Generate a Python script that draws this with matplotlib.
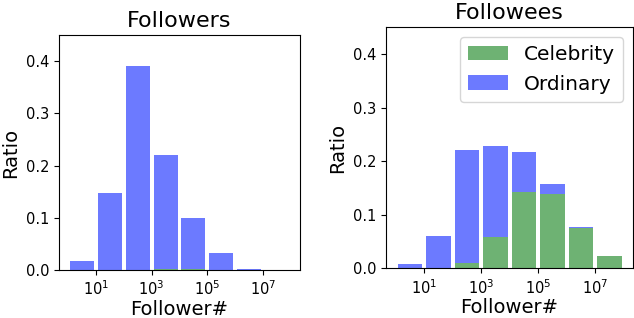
import numpy as np
import matplotlib
matplotlib.use("Agg")
import matplotlib.pyplot as plt

# log10 of the lower edge of each bin (10^0 .. 10^7)
decades = [0, 1, 2, 3, 4, 5, 6, 7]

# Followers
followers_celebrity = [0.0, 0.0, 0.0, 0.001, 0.0015, 0.0, 0.0, 0.0]
followers_ordinary = [0.0175, 0.148, 0.39, 0.219, 0.0985, 0.0326, 0.0025, 0.0]

# Followees
followees_celebrity = [0.0, 0.0, 0.0093, 0.058, 0.142, 0.139, 0.076, 0.0235]
followees_ordinary = [0.0075, 0.060, 0.212, 0.170, 0.075, 0.019, 0.001, 0.0]

tick_decades = [1, 3, 5, 7]
green = "#6eb273"
blue = "#6c7aff"


def draw(ax, celeb, ordinary, title, legend=False):
    d = np.array(decades, dtype=float)
    left = 10 ** (d + 0.07)
    width = 10 ** (d + 0.93) - left
    celeb = np.array(celeb)
    ordinary = np.array(ordinary)
    ax.bar(left, celeb, width=width, align="edge", color=green, label="Celebrity")
    ax.bar(left, ordinary, width=width, bottom=celeb, align="edge", color=blue, label="Ordinary")
    ax.set_xscale("log")
    ax.set_xlim(10 ** -0.33, 10 ** 8.33)
    ax.set_ylim(0, 0.45)
    ax.set_xticks([10.0 ** k for k in tick_decades])
    ax.set_xticklabels([r"$10^{%d}$" % k for k in tick_decades])
    ax.minorticks_off()
    ax.set_yticks([0.0, 0.1, 0.2, 0.3, 0.4])
    ax.tick_params(labelsize=10.5)
    ax.set_title(title, fontsize=16)
    ax.set_xlabel("Follower#", fontsize=14, labelpad=1)
    ax.set_ylabel("Ratio", fontsize=14)
    if legend:
        ax.legend(loc="upper right", fontsize=14.5)


fig = plt.figure(figsize=(6.34, 3.18), dpi=100)
ax1 = fig.add_axes([0.0931, 0.151, 0.380, 0.739])
ax2 = fig.add_axes([0.609, 0.156, 0.3896, 0.758])

draw(ax1, followers_celebrity, followers_ordinary, "Followers")
draw(ax2, followees_celebrity, followees_ordinary, "Followees", legend=True)

fig.savefig("out.png", dpi=100)
